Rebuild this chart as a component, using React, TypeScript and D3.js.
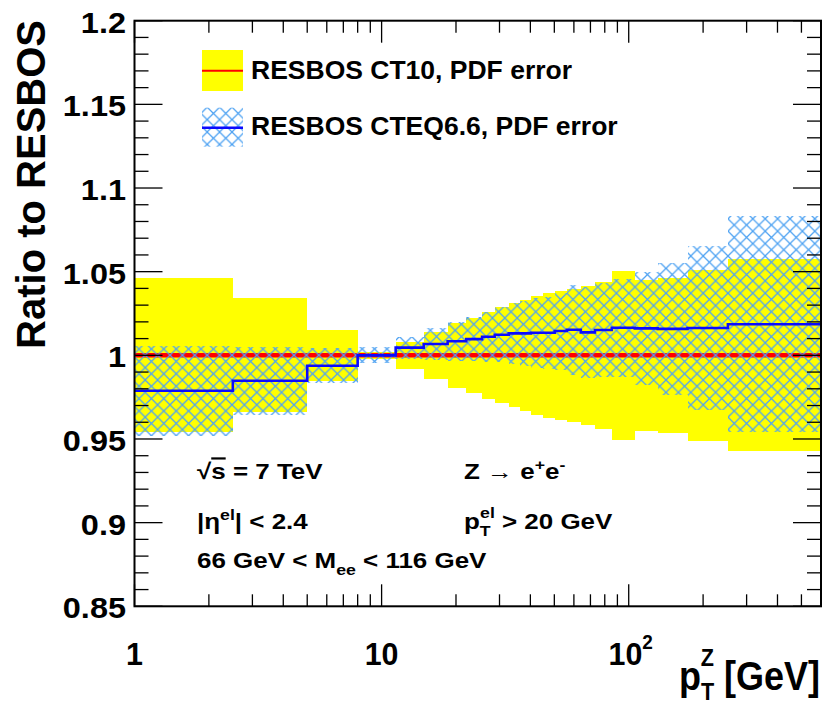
import React from 'react';
import * as d3 from 'd3';

// bin edges in pT^Z [GeV]
const binEdges = [1, 2.5, 5, 8, 11.4, 14.8, 18.5, 22, 25.5, 28.7, 32.7, 36.3, 40.2, 44.9, 50.2, 56.2, 64, 73, 85.4, 105.8, 131, 173, 252, 600];
// RESBOS CT10 (reference) ratio and PDF error half-width
const ct10Ratio = [1, 1, 1, 1, 1, 1, 1, 1, 1, 1, 1, 1, 1, 1, 1, 1, 1, 1, 1, 1, 1, 1, 1];
const ct10Err = [0.046, 0.034, 0.0152, 0.0022, 0.0082, 0.0141, 0.0193, 0.0226, 0.026, 0.0287, 0.031, 0.0332, 0.0357, 0.0372, 0.0387, 0.0396, 0.0416, 0.0441, 0.0504, 0.0451, 0.0465, 0.0512, 0.0573];
// RESBOS CTEQ6.6 ratio and PDF error half-width
const cteqRatio = [0.9788, 0.9848, 0.9938, 1.0, 1.0046, 1.0068, 1.0084, 1.0097, 1.0111, 1.0123, 1.0131, 1.0131, 1.0135, 1.0135, 1.0145, 1.0153, 1.0137, 1.0151, 1.0165, 1.0161, 1.0158, 1.0163, 1.0186];
const cteqErr = [0.0268, 0.0202, 0.0105, 0.0048, 0.0065, 0.0095, 0.0115, 0.013, 0.0148, 0.0165, 0.018, 0.0192, 0.021, 0.0215, 0.023, 0.027, 0.027, 0.028, 0.0293, 0.034, 0.0395, 0.049, 0.0645];

const yTicks = [0.85, 0.9, 0.95, 1, 1.05, 1.1, 1.15, 1.2];
const yTickLabels = ['0.85', '0.9', '0.95', '1', '1.05', '1.1', '1.15', '1.2'];
const xMajorTicks = [1, 10, 100];
const xMinorTicks = [2, 3, 4, 5, 6, 7, 8, 9, 20, 30, 40, 50, 60, 70, 80, 90, 200, 300, 400, 500];

const FONT = '"Liberation Sans", Arial, Helvetica, sans-serif';
const YELLOW = '#ffff00';
const HATCH = '#4ea2f2';
const BLUE = '#0a0aff';
const RED = '#ff0000';

export default function App() {
  const W = 826, H = 711;
  const L = 134.5, R = 821, T = 20.7, B = 606.3;
  const x = d3.scaleLog().domain([1, 600]).range([L, R]);
  const y = d3.scaleLinear().domain([0.85, 1.2]).range([B, T]);

  const bins = ct10Ratio.map((_, i) => ({ x0: binEdges[i], x1: binEdges[i + 1] }));

  const stepPts = (vals: number[]) => {
    const pts: [number, number][] = vals.map((v, i) => [binEdges[i], v]);
    pts.push([binEdges[binEdges.length - 1], vals[vals.length - 1]]);
    return pts;
  };
  const stepLine = d3.line<[number, number]>().x(d => x(d[0])).y(d => y(d[1])).curve(d3.curveStepAfter);

  const yMinor = d3.range(85, 121).map(v => v / 100);

  const P = 12.4;

  return (
    <svg width={W} height={H} style={{ position: 'absolute', left: 0, top: 0, background: '#fff' }}
      fontFamily={FONT} fontWeight="bold">
      <defs>
        <clipPath id="plotclip"><rect x={L} y={T} width={R - L} height={B - T} /></clipPath>
        <pattern id="hatch" patternUnits="userSpaceOnUse" width={P} height={P} x={139 - P / 2} y={349 - P / 2}>
          <path d={`M0,0L${P},${P}M0,${P}L${P},0`} stroke={HATCH} strokeWidth={1.3} fill="none" />
        </pattern>
      </defs>
      <rect x={0} y={0} width={W} height={H} fill="#fff" />

      <g clipPath="url(#plotclip)">
        {bins.map((b, i) => (
          <rect key={'y' + i} x={x(b.x0)} width={x(b.x1) - x(b.x0)}
            y={y(ct10Ratio[i] + ct10Err[i])} height={y(ct10Ratio[i] - ct10Err[i]) - y(ct10Ratio[i] + ct10Err[i])}
            fill={YELLOW} shapeRendering="crispEdges" />
        ))}
        <path d={stepLine(stepPts(ct10Ratio)) || ''} stroke={RED} strokeWidth={4.5} fill="none" />
        {bins.map((b, i) => (
          <rect key={'h' + i} x={x(b.x0)} width={x(b.x1) - x(b.x0)}
            y={y(cteqRatio[i] + cteqErr[i])} height={y(cteqRatio[i] - cteqErr[i]) - y(cteqRatio[i] + cteqErr[i])}
            fill="url(#hatch)" shapeRendering="crispEdges" />
        ))}
        <path d={stepLine(stepPts(cteqRatio)) || ''} stroke={BLUE} strokeWidth={2.6} fill="none" />
      </g>

      {/* frame */}
      <rect x={L} y={T} width={R - L} height={B - T} fill="none" stroke="#000" strokeWidth={2} />

      {/* y ticks left/right */}
      {yMinor.map((v, i) => {
        const major = Math.abs(v * 100 % 5) < 1e-6 || Math.abs(v * 100 % 5 - 5) < 1e-6;
        const len = major ? 28 : 14;
        return (
          <g key={'yt' + i} stroke="#000" strokeWidth={1.3}>
            <line x1={L} x2={L + len} y1={y(v)} y2={y(v)} />
            <line x1={R} x2={R - len} y1={y(v)} y2={y(v)} />
          </g>
        );
      })}
      {/* x ticks bottom/top */}
      {xMajorTicks.map((v, i) => (
        <g key={'xM' + i} stroke="#000" strokeWidth={1.3}>
          <line x1={x(v)} x2={x(v)} y1={B} y2={B - 22} />
          <line x1={x(v)} x2={x(v)} y1={T} y2={T + 22} />
        </g>
      ))}
      {xMinorTicks.map((v, i) => (
        <g key={'xm' + i} stroke="#000" strokeWidth={1.3}>
          <line x1={x(v)} x2={x(v)} y1={B} y2={B - 12} />
          <line x1={x(v)} x2={x(v)} y1={T} y2={T + 12} />
        </g>
      ))}

      {/* y tick labels */}
      {yTicks.map((v, i) => (
        <g key={'yl' + i} transform={`translate(126,${y(v) + 12}) scale(1.12,1)`}>
          <text textAnchor="end" fontSize={29}>{yTickLabels[i]}</text>
        </g>
      ))}
      {/* x tick labels */}
      <g transform={`translate(${x(1)},665) scale(0.95,1)`}><text textAnchor="middle" fontSize={32}>1</text></g>
      <g transform={`translate(${x(10)},665) scale(0.95,1)`}><text textAnchor="middle" fontSize={32}>10</text></g>
      <g transform={`translate(${x(100) + 2},665) scale(0.95,1)`}>
        <text textAnchor="middle" fontSize={32}>10<tspan dy={-16} fontSize={20}>2</tspan></text>
      </g>

      {/* y axis title */}
      <text transform="translate(45,20) rotate(-90)" textAnchor="end" fontSize={40}>Ratio to RESBOS</text>

      {/* x axis title */}
      <g transform="translate(820,690) scale(0.9,1)">
        <text textAnchor="end" fontSize={40}>
          p<tspan dy={10} fontSize={24}>T</tspan><tspan dx={-15} dy={-34} fontSize={24}>Z</tspan><tspan dy={24}> [GeV]</tspan>
        </text>
      </g>

      {/* legend */}
      <rect x={202} y={50} width={41} height={41} fill={YELLOW} />
      <line x1={202} x2={243} y1={70.7} y2={70.7} stroke={RED} strokeWidth={2} />
      <rect x={202} y={107.7} width={41} height={39} fill="url(#hatch)" />
      <line x1={202} x2={243} y1={127.7} y2={127.7} stroke={BLUE} strokeWidth={2.5} />
      <text x={251} y={79.3} fontSize={26.5}>RESBOS CT10, PDF error</text>
      <text x={251} y={135} fontSize={26.5}>RESBOS CTEQ6.6, PDF error</text>

      {/* annotations */}
      <g transform="translate(197,479.3) scale(1.18,1)">
        <text fontSize={22}>√<tspan textDecoration="overline">s</tspan> = 7 TeV</text>
      </g>
      <g transform="translate(197,529.3) scale(1.18,1)">
        <text fontSize={22}>|η<tspan dy={-9} fontSize={15}>el</tspan><tspan dy={9}>| &lt; 2.4</tspan></text>
      </g>
      <g transform="translate(197,568.3) scale(1.18,1)">
        <text fontSize={22}>66 GeV &lt; M<tspan dy={7} fontSize={15}>ee</tspan><tspan dy={-7}> &lt; 116 GeV</tspan></text>
      </g>
      <g transform="translate(464,479.3) scale(1.18,1)">
        <text fontSize={22}>Z <tspan fontWeight="normal">→</tspan> e<tspan dy={-9} fontSize={15}>+</tspan><tspan dy={9}>e</tspan><tspan dy={-9} fontSize={15}>-</tspan></text>
      </g>
      <g transform="translate(464,529.3) scale(1.18,1)">
        <text fontSize={22}>p<tspan dy={7} fontSize={15}>T</tspan><tspan dx={-9} dy={-18} fontSize={15}>el</tspan><tspan dy={11}> &gt; 20 GeV</tspan></text>
      </g>
    </svg>
  );
}
